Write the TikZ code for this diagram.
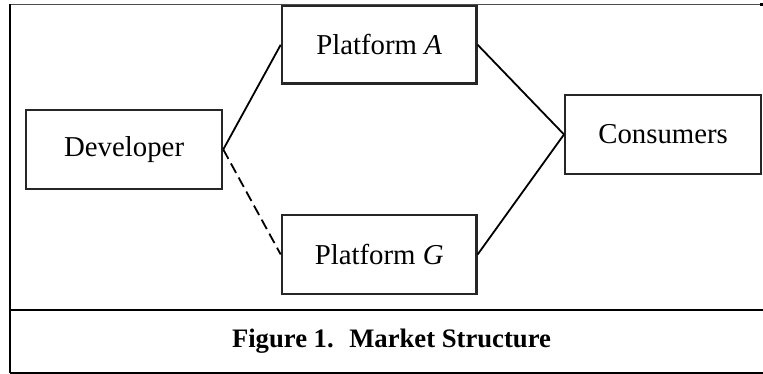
\documentclass[tikz,border=0pt]{standalone}
\usepackage{fontspec}
\setmainfont{Liberation Serif}
\begin{document}
\begin{tikzpicture}[x=0.75pt,y=-0.75pt,
  boxnode/.style={draw=black!85,line width=1.7pt,rectangle,inner sep=0pt,
    font=\fontsize{21.6pt}{24pt}\selectfont},
  link/.style={draw=black,line width=1.35pt},
  dashlink/.style={link,dash pattern=on 8pt off 4pt},
  rule/.style={draw=black,line width=1.8pt}]
\useasboundingbox (0,0) rectangle (763,374);

% outer frame and caption rule
\draw[draw=black!70,line width=0.9pt] (10,4.7) -- (762,4.7);
\fill[black] (760,3.5) rectangle (763,6.5);
\draw[rule] (10,4) -- (10,373);
\draw[rule] (10,310) -- (763,310);
\draw[rule] (10,372.7) -- (763,372.7);

% market participants
\node[boxnode,anchor=north west,minimum width=147pt,minimum height=59pt] (dev) at (25,109) {Developer};
\node[boxnode,anchor=north west,minimum width=146pt,minimum height=58pt] (pa) at (280.7,5) {Platform \textit{A}};
\node[boxnode,anchor=north west,minimum width=146pt,minimum height=59pt] (pg) at (280.7,214) {Platform \textit{G}};
\node[boxnode,anchor=north west,minimum width=147pt,minimum height=59pt] (con) at (564,94) {Consumers};

% connections
\draw[link] (dev.east) -- (pa.west);
\draw[dashlink] (dev.east) -- (pg.west);
\draw[link] (pa.east) -- (con.west);
\draw[link] (pg.east) -- (con.west);

% caption
\node[font=\fontsize{20pt}{24pt}\selectfont\bfseries] (cap) at (391.5,341.5) {Figure 1.~ Market Structure};
\end{tikzpicture}
\end{document}
